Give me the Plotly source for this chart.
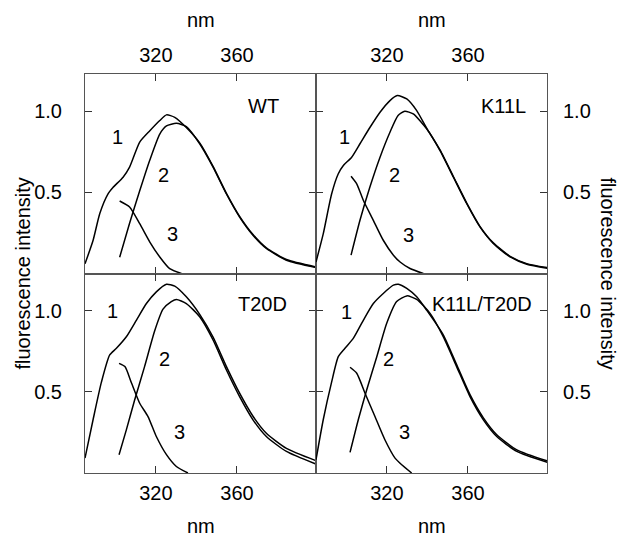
import plotly.graph_objects as go
from plotly.subplots import make_subplots

# ---------------- data (wavelength in nm, normalized fluorescence intensity) -------------
panel_names = ["WT", "K11L", "T20D", "K11L/T20D"]
x_ticks = [320, 360]
y_ticks = [0.5, 1.0]
y_tick_labels = ["0.5", "1.0"]

wt_c1_x = [285, 289, 292.3, 296.3, 298.8, 303.8, 307, 312, 317, 321.9, 325.2, 329.3, 335, 341.6, 348.2, 354.8, 361.3, 367.9, 374.5, 384.4, 399]
wt_c1_y = [0.06, 0.205, 0.37, 0.49, 0.53, 0.594, 0.656, 0.81, 0.88, 0.943, 0.978, 0.963, 0.90, 0.805, 0.66, 0.494, 0.352, 0.24, 0.158, 0.086, 0.04]
wt_c2_x = [302.1, 307, 312, 317, 321.9, 325.2, 330.1, 335, 341.6, 348.2, 354.8, 361.3, 367.9, 374.5, 384.4, 399]
wt_c2_y = [0.10, 0.31, 0.51, 0.70, 0.86, 0.91, 0.926, 0.906, 0.80, 0.656, 0.49, 0.348, 0.236, 0.154, 0.082, 0.037]
wt_c3_x = [302.1, 307, 312, 317, 321.9, 326.8, 332.6]
wt_c3_y = [0.447, 0.41, 0.307, 0.194, 0.102, 0.03, 0.0]

k11l_c1_x = [285, 288.6, 292.7, 296, 298.5, 302.6, 306.7, 311.6, 316.6, 321.5, 325.1, 329.8, 334.7, 339.6, 346.2, 352.8, 359.4, 365.9, 372.5, 380.8, 389, 399.6]
k11l_c1_y = [0.071, 0.246, 0.49, 0.615, 0.666, 0.717, 0.80, 0.90, 0.994, 1.066, 1.097, 1.076, 1.004, 0.896, 0.762, 0.598, 0.434, 0.291, 0.189, 0.106, 0.061, 0.035]
k11l_c2_x = [302.3, 306.7, 311.6, 316.6, 321.5, 325.5, 328.8, 333, 339.6, 346.2, 352.8, 359.4, 365.9, 372.5, 380.8, 389, 399.6]
k11l_c2_y = [0.113, 0.328, 0.533, 0.717, 0.871, 0.974, 1.0, 0.984, 0.892, 0.758, 0.594, 0.43, 0.287, 0.185, 0.102, 0.057, 0.031]
k11l_c3_x = [302.3, 305.1, 308.4, 313.3, 318.2, 323.2, 326.5, 331.4, 338]
k11l_c3_y = [0.60, 0.553, 0.45, 0.328, 0.205, 0.113, 0.071, 0.031, 0.0]

t20d_c1_x = [285, 289, 293.1, 297.2, 300.5, 305.4, 310.4, 315.3, 320.2, 325.2, 329.3, 335, 341.6, 348.2, 354.8, 361.3, 367.9, 374.5, 384.4, 398.6]
t20d_c1_y = [0.092, 0.33, 0.56, 0.728, 0.769, 0.84, 0.943, 1.045, 1.117, 1.164, 1.152, 1.086, 0.978, 0.838, 0.656, 0.492, 0.35, 0.245, 0.152, 0.078]
t20d_c2_x = [301.8, 305.4, 309.5, 314.4, 319.4, 323.5, 327.6, 330.1, 335, 341.6, 348.2, 354.8, 361.3, 367.9, 374.5, 384.4, 398.6]
t20d_c2_y = [0.113, 0.266, 0.45, 0.656, 0.877, 1.01, 1.056, 1.07, 1.045, 0.963, 0.82, 0.635, 0.471, 0.328, 0.225, 0.133, 0.057]
t20d_c3_x = [301.8, 304.7, 308, 312, 316.1, 320.2, 325.2, 330.1, 335.8]
t20d_c3_y = [0.676, 0.656, 0.553, 0.43, 0.348, 0.225, 0.113, 0.04, 0.0]

dbl_c1_x = [285, 288.6, 292.7, 296, 299.3, 303.4, 308.4, 313.3, 318.2, 323.2, 325.7, 329.8, 334.7, 339.6, 347.8, 354.4, 361, 367.6, 374.2, 384.1, 399.2]
dbl_c1_y = [0.082, 0.33, 0.56, 0.717, 0.769, 0.83, 0.943, 1.045, 1.107, 1.158, 1.164, 1.138, 1.086, 1.004, 0.852, 0.668, 0.483, 0.34, 0.236, 0.143, 0.074]
dbl_c2_x = [301.8, 305.9, 310, 315, 319.9, 324.8, 329.8, 334.7, 341.3, 347.8, 354.4, 361, 367.6, 374.2, 384.1, 399.2]
dbl_c2_y = [0.127, 0.33, 0.512, 0.717, 0.923, 1.057, 1.092, 1.07, 0.984, 0.84, 0.656, 0.471, 0.328, 0.225, 0.133, 0.065]
dbl_c3_x = [301.8, 305.1, 309.2, 314.1, 319, 324, 327.3, 332.2]
dbl_c3_y = [0.652, 0.615, 0.492, 0.348, 0.205, 0.092, 0.051, 0.0]

# label positions (curve number labels and panel names), in data units
curve_labels = ["1", "2", "3"]
wt_lbl_x = [300.8, 323.5, 328.4];   wt_lbl_y = [0.84, 0.605, 0.246]
k11l_lbl_x = [299.0, 323.5, 330.5]; k11l_lbl_y = [0.84, 0.605, 0.236]
t20d_lbl_x = [298.8, 324.3, 331.7]; t20d_lbl_y = [1.0, 0.70, 0.25]
dbl_lbl_x = [300.2, 320.9, 328.9];  dbl_lbl_y = [0.994, 0.70, 0.25]
name_x = [373.2, 377.5, 372.8, 366.8]
name_y = [1.03, 1.03, 1.045, 1.045]

x_range = [285, 399]
y_range = [0, 1.23]

# ---------------- figure -------------
FONT = "Liberation Sans, Arial, Helvetica, sans-serif"
fig = make_subplots(rows=2, cols=2, horizontal_spacing=0, vertical_spacing=0)

panels = [
    (1, 1, [(wt_c1_x, wt_c1_y), (wt_c2_x, wt_c2_y), (wt_c3_x, wt_c3_y)], wt_lbl_x, wt_lbl_y),
    (1, 2, [(k11l_c1_x, k11l_c1_y), (k11l_c2_x, k11l_c2_y), (k11l_c3_x, k11l_c3_y)], k11l_lbl_x, k11l_lbl_y),
    (2, 1, [(t20d_c1_x, t20d_c1_y), (t20d_c2_x, t20d_c2_y), (t20d_c3_x, t20d_c3_y)], t20d_lbl_x, t20d_lbl_y),
    (2, 2, [(dbl_c1_x, dbl_c1_y), (dbl_c2_x, dbl_c2_y), (dbl_c3_x, dbl_c3_y)], dbl_lbl_x, dbl_lbl_y),
]

axis_ids = ["", "2", "3", "4"]
for i, (r, c, curves, lx, ly) in enumerate(panels):
    for cx, cy in curves:
        fig.add_trace(go.Scatter(x=cx, y=cy, mode="lines",
                                 line=dict(color="black", width=1.5, shape="spline", smoothing=0.6),
                                 showlegend=False, hoverinfo="skip", cliponaxis=True),
                      row=r, col=c)
    aid = axis_ids[i]
    for t, xx, yy in zip(curve_labels, lx, ly):
        fig.add_annotation(x=xx, y=yy, xref="x" + aid, yref="y" + aid, text=t, showarrow=False,
                           xanchor="center", yanchor="middle",
                           font=dict(family=FONT, size=20, color="black"))
    fig.add_annotation(x=name_x[i], y=name_y[i], xref="x" + aid, yref="y" + aid, text=panel_names[i],
                       showarrow=False, xanchor="center", yanchor="middle",
                       font=dict(family=FONT, size=20, color="black"))

common_x = dict(range=x_range, tickvals=x_ticks, ticks="inside", ticklen=7, tickcolor="#333",
                showline=True, linecolor="#555", linewidth=1, mirror="ticks", showgrid=False,
                zeroline=False, tickfont=dict(family=FONT, size=20, color="black"))
common_y = dict(range=y_range, tickvals=y_ticks, ticktext=y_tick_labels, ticks="inside", ticklen=7,
                tickcolor="#333", showline=True, linecolor="#555", linewidth=1, mirror="ticks",
                showgrid=False, zeroline=False, tickfont=dict(family=FONT, size=20, color="black"))

fig.update_layout(
    xaxis=dict(common_x, side="top", ticklabelstandoff=3),
    xaxis2=dict(common_x, side="top", ticklabelstandoff=3),
    xaxis3=dict(common_x, side="bottom", ticklabelstandoff=2),
    xaxis4=dict(common_x, side="bottom", ticklabelstandoff=2),
    yaxis=dict(common_y, side="left", ticklabelstandoff=18),
    yaxis2=dict(common_y, side="right", ticklabelstandoff=11),
    yaxis3=dict(common_y, side="left", ticklabelstandoff=18),
    yaxis4=dict(common_y, side="right", ticklabelstandoff=11),
)

# axis titles
title_font = dict(family=FONT, size=20, color="black")
for ax_x in (0.25, 0.75):
    fig.add_annotation(x=ax_x, y=1 + (74 - 20) / 399, xref="paper", yref="paper", text="nm",
                       showarrow=False, xanchor="center", yanchor="middle", font=title_font)
    fig.add_annotation(x=ax_x, y=-(526 - 473) / 399, xref="paper", yref="paper", text="nm",
                       showarrow=False, xanchor="center", yanchor="middle", borderpad=0,
                       font=title_font)
fig.add_annotation(x=(22 - 85) / 462, y=0.5, xref="paper", yref="paper", text="fluorescence intensity",
                   textangle=-90, showarrow=False, xanchor="center", yanchor="middle", font=title_font)
fig.add_annotation(x=(608 - 85) / 462, y=0.5, xref="paper", yref="paper", text="fluorescence intensity",
                   textangle=90, showarrow=False, xanchor="center", yanchor="middle", font=title_font)

fig.update_layout(width=622, height=538, autosize=False,
                  margin=dict(l=85, r=75, t=74, b=65),
                  paper_bgcolor="white", plot_bgcolor="white",
                  font=dict(family=FONT, size=20, color="black"))

fig.write_html("out.html", config={"displayModeBar": False},
               post_script="document.body.style.margin='0';")
